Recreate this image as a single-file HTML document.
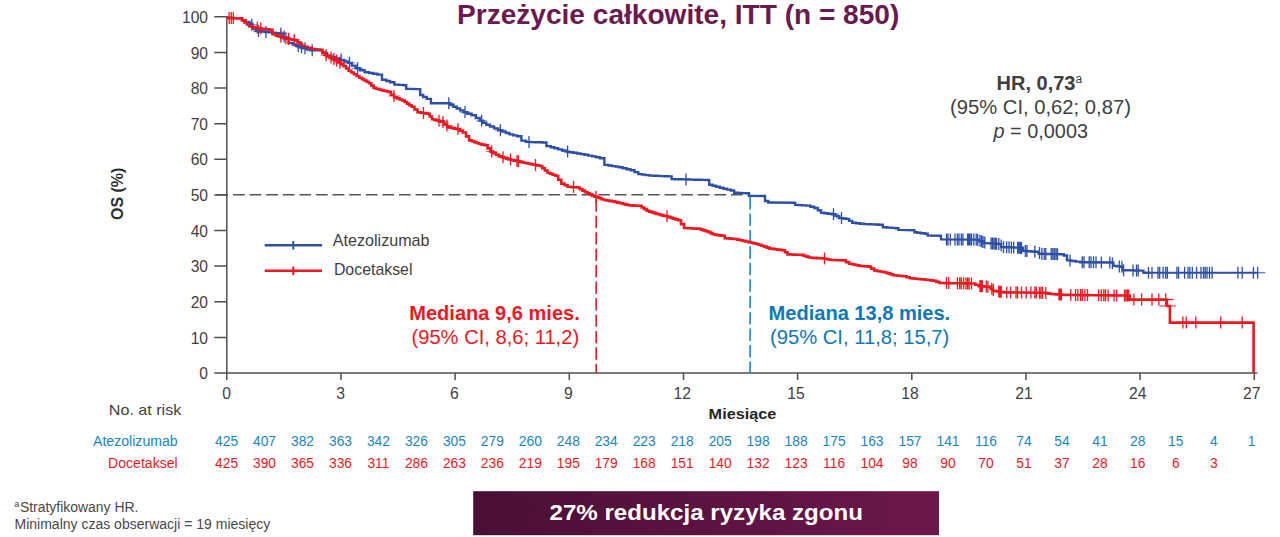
<!DOCTYPE html>
<html><head><meta charset="utf-8"><title>OS ITT</title>
<style>
html,body{margin:0;padding:0;background:#fff;}
body{width:1280px;height:537px;overflow:hidden;font-family:"Liberation Sans",sans-serif;}
svg{display:block;}
text{font-family:"Liberation Sans",sans-serif;}
</style></head><body>
<svg width="1280" height="537" viewBox="0 0 1280 537">
<defs><linearGradient id="g" x1="0" x2="1" y1="0" y2="0"><stop offset="0" stop-color="#4a0f35"/><stop offset="1" stop-color="#6d174b"/></linearGradient></defs>
<rect width="1280" height="537" fill="#fff"/>
<text x="457.0" y="24.0" font-size="27" fill="#6b1a4f" textLength="442.3" lengthAdjust="spacingAndGlyphs" font-weight="bold">Przeżycie całkowite, ITT (n = 850)</text>
<g stroke="#505050" stroke-width="1.5" fill="none"><path d="M226.8,16.0V373.0H1257.4"/><path d="M214.3,373.0H226.8M214.3,337.4H226.8M214.3,301.8H226.8M214.3,266.1H226.8M214.3,230.5H226.8M214.3,194.9H226.8M214.3,159.3H226.8M214.3,123.7H226.8M214.3,88.0H226.8M214.3,52.4H226.8M214.3,16.8H226.8M226.8,373.0V380.0M341.0,373.0V380.0M455.1,373.0V380.0M569.3,373.0V380.0M683.5,373.0V380.0M797.6,373.0V380.0M911.8,373.0V380.0M1026.0,373.0V380.0M1140.1,373.0V380.0M1254.3,373.0V380.0"/></g>
<g font-size="15.6" fill="#3f3f3f"><text x="208" y="379.1" text-anchor="end">0</text><text x="208" y="343.5" text-anchor="end">10</text><text x="208" y="307.9" text-anchor="end">20</text><text x="208" y="272.2" text-anchor="end">30</text><text x="208" y="236.6" text-anchor="end">40</text><text x="208" y="201.0" text-anchor="end">50</text><text x="208" y="165.4" text-anchor="end">60</text><text x="208" y="129.8" text-anchor="end">70</text><text x="208" y="94.1" text-anchor="end">80</text><text x="208" y="58.5" text-anchor="end">90</text><text x="208" y="22.9" text-anchor="end">100</text></g>
<g font-size="15.7" fill="#3f3f3f"><text x="226.6" y="398.8" text-anchor="middle">0</text><text x="340.5" y="398.8" text-anchor="middle">3</text><text x="454.4" y="398.8" text-anchor="middle">6</text><text x="568.3" y="398.8" text-anchor="middle">9</text><text x="682.2" y="398.8" text-anchor="middle">12</text><text x="796.1" y="398.8" text-anchor="middle">15</text><text x="910.0" y="398.8" text-anchor="middle">18</text><text x="1023.9" y="398.8" text-anchor="middle">21</text><text x="1137.8" y="398.8" text-anchor="middle">24</text><text x="1251.7" y="398.8" text-anchor="middle">27</text></g>
<text transform="translate(122.6,193.8) rotate(-90)" text-anchor="middle" font-size="16" font-weight="bold" fill="#2e2e2e" textLength="52.5" lengthAdjust="spacingAndGlyphs">OS (%)</text>
<text x="708.6" y="418.5" font-size="15.5" fill="#262626" textLength="67.8" lengthAdjust="spacingAndGlyphs" font-weight="bold">Miesiące</text>
<path d="M216.4,194.7H750" stroke="#555" stroke-width="1.6" stroke-dasharray="11.7 4.9" fill="none"/>
<path d="M596.2,199.3V373" stroke="#ef1821" stroke-width="1.6" stroke-dasharray="12.4 4.05" fill="none"/>
<path d="M750.1,197V373" stroke="#1985c3" stroke-width="1.6" stroke-dasharray="12.4 4.05" fill="none"/>
<path d="M226.8,17.8H229.1V18.0H233.7V18.2H238.3V18.4H240.6H242.4V20.2H245.9V22.0H249.5V23.8H251.3H252.4V28.5H253.6H255.8V31.0H258.0H260.2V31.5H264.8V32.0H267.0H268.8V32.4H272.2V32.8H275.8V33.1H279.2V33.5H281.0H283.5V38.2H288.5V43.0H291.0H292.7V44.4H296.1V45.8H299.6V47.2H301.3H303.1V48.2H306.8V49.3H310.5V50.3H312.3L320.0,50.3H322.4V53.0H327.1V55.8H329.5H331.6V57.2H335.8V58.5H339.9V59.9H342.0H343.9V61.4H347.9V62.9H349.8H351.8V65.6H355.7V68.3H357.6H360.0V70.2H364.6V72.2H367.0H369.1V73.0H373.2V73.8H377.4V74.6H379.5H382.0V79.8H384.5H386.4V81.0H390.1V82.2H392.0H394.4V84.6H396.7H399.0V84.9H403.5V85.2H405.8H406.2V88.8H406.6L419.1,89.1H420.2V95.0H421.4H423.2V97.0H426.7V98.9H428.5H430.9V103.2H433.2L448.8,103.3H450.4V105.0H453.4V106.7H455.0H456.7V108.5H460.1V110.4H463.5V112.2H465.2H467.4V113.8H471.6V115.3H473.8H475.8V118.0H479.7V120.8H481.6H483.2V122.8H486.3V124.7H487.9H490.0V126.5H494.1V128.4H498.3V130.2H500.4H502.2V131.6H505.9V133.0H509.5V134.4H511.3H513.2V135.4H517.1V136.3H519.0H521.4V140.6H523.8H526.1V141.9H528.5H530.4V142.1H534.3V142.2H538.2V142.3H542.1V142.5H544.0H546.4V146.1H548.8H550.7V147.2H554.4V148.3H558.2V149.4H562.0V150.5H565.7V151.6H567.6H569.5V152.2H573.2V152.8H577.0V153.5H580.7V154.1H584.4V154.7H586.3H588.3V155.6H592.2V156.4H596.1V157.3H600.0V158.2H602.0H604.4V164.9H606.7H608.5V165.5H612.0V166.1H615.5V166.6H619.0V167.2H620.7H622.7V168.2H626.6V169.2H630.5V170.2H632.5H634.5V172.1H638.3V174.1H640.3H642.1V174.6H645.8V175.1H649.5V175.6H651.3H653.2V175.8H656.9V175.9H660.6V176.1H664.4V176.2H668.1V176.4H670.0H671.6V179.1H673.2H675.1V179.2H678.9V179.3H682.8V179.4H686.6V179.5H690.4V179.6H694.2V179.7H698.0V179.8H701.9V179.9H705.7V180.0H707.6H709.2V184.7H710.7H712.5V185.7H716.2V186.8H719.8V187.8H721.6H723.4V188.7H727.1V189.6H730.8V190.5H732.6H734.2V192.8H735.7H737.8V193.0H742.0V193.1H746.1V193.3H748.2H749.0V195.7H749.8L763.9,196.0H765.0V201.0H766.2H768.2V202.5H770.1L794.4,202.8H795.2V204.9H796.0H798.1V205.1H802.2V205.4H806.4V205.6H808.5H810.5V206.8H814.3V208.0H816.3H817.8V210.3H821.0V212.7H822.5H824.3V213.2H828.0V213.7H831.7V214.2H833.5H835.5V216.1H839.3V218.1H841.3H842.9V218.5H846.0V218.9H847.6H849.1V220.9H852.2V222.8H853.8H855.9V223.2H860.0V223.7H864.2V224.1H866.3H868.1V224.2H871.6V224.4H875.1V224.5H878.6V224.7H880.4H882.8V227.2H885.1H887.2V227.6H891.4V227.9H895.5V228.3H897.6H898.4V229.9H899.2L913.6,230.2H914.4V232.2H915.2H917.2V232.7H921.0V233.3H925.0V233.8H926.9H927.7V235.5H928.5L940.2,235.8H941.0V239.4H941.8L977.0,239.6H979.3V241.3H984.0V243.1H986.3H988.4V243.4H992.5V243.6H996.7V243.9H998.8H1001.1V247.1H1003.5H1005.6V247.3H1010.0V247.4H1014.2V247.6H1018.6V247.8H1020.7H1023.1V251.0H1025.4H1027.2V251.2H1030.9V251.5H1034.6V251.7H1036.4H1038.7V253.8H1041.0H1042.8V253.9H1046.5V254.0H1050.2V254.1H1053.8V254.1H1057.5V254.2H1061.2V254.3H1063.0H1063.8V255.5H1064.5H1067.0V260.4H1069.5H1071.6V261.0H1075.9V261.6H1080.2V262.2H1082.3L1111.6,262.5H1113.3V265.9H1115.0H1116.7V266.4H1120.2V266.8H1121.9H1122.8V270.2H1123.6H1125.8V270.3H1130.0V270.4H1134.3V270.5H1138.6V270.6H1140.8H1143.4V272.8H1146.0L1150.0,272.8" stroke="#2f4fa7" stroke-width="2.4" fill="none" stroke-linejoin="miter"/>
<path d="M1149,272.8H1258" stroke="#2f4fa7" stroke-width="1.9" fill="none"/><path d="M1258,272.8H1265.4" stroke="#2f4fa7" stroke-width="1.0" fill="none"/>
<path d="M251.8,18.8V30.8M258.5,25.1V37.1M266.0,25.9V37.9M280.9,27.5V39.5M284.2,30.5V42.5M298.2,39.9V51.9M301.5,41.3V53.3M305.0,42.2V54.2M312.2,44.3V56.3M341.2,53.6V65.6M349.5,56.8V68.8M357.6,62.3V74.3M448.8,97.3V109.3M465.0,106.1V118.1M481.6,114.8V126.8M500.4,124.2V136.2M529.0,135.9V147.9M567.6,145.6V157.6M686.0,173.4V185.4M833.5,208.2V220.2M841.5,212.1V224.1M946.5,233.4V245.4M948.0,233.4V245.4M950.4,233.4V245.4M955.0,233.5V245.5M957.4,233.5V245.5M959.0,233.5V245.5M961.3,233.5V245.5M962.9,233.5V245.5M967.6,233.5V245.5M968.8,233.6V245.6M970.0,233.6V245.6M971.5,233.6V245.6M973.8,233.6V245.6M976.2,233.6V245.6M977.7,233.9V245.9M980.0,234.7V246.7M981.6,235.3V247.3M983.0,235.9V247.9M984.8,236.5V248.5M991.0,237.4V249.4M992.5,237.5V249.5M994.0,237.6V249.6M995.5,237.7V249.7M996.5,237.8V249.8M998.8,237.9V249.9M1001.2,239.5V251.5M1003.5,241.1V253.1M1006.7,241.2V253.2M1009.0,241.3V253.3M1011.4,241.4V253.4M1013.7,241.5V253.5M1017.6,241.7V253.7M1019.0,241.7V253.7M1020.3,241.8V253.8M1021.5,242.3V254.3M1025.4,245.0V257.0M1027.0,245.1V257.1M1034.8,245.6V257.6M1039.5,247.1V259.1M1041.8,247.8V259.8M1044.2,247.9V259.9M1045.8,247.9V259.9M1051.2,248.0V260.0M1052.8,248.1V260.1M1054.4,248.1V260.1M1056.0,248.1V260.1M1057.5,248.2V260.2M1070.0,254.5V266.5M1082.3,256.2V268.2M1084.0,256.2V268.2M1089.2,256.3V268.3M1091.0,256.3V268.3M1093.5,256.3V268.3M1096.0,256.3V268.3M1101.3,256.4V268.4M1109.8,256.5V268.5M1112.4,257.3V269.3M1119.3,260.5V272.5M1121.9,260.8V272.8M1123.6,264.2V276.2M1133.0,264.4V276.4M1136.5,264.5V276.5M1138.2,264.5V276.5M1148.5,266.8V278.8M1152.0,266.8V278.8M1158.0,266.8V278.8M1159.7,266.8V278.8M1163.1,266.8V278.8M1165.7,266.8V278.8M1167.4,266.8V278.8M1176.9,266.8V278.8M1178.6,266.8V278.8M1184.6,266.8V278.8M1188.0,266.8V278.8M1189.8,266.8V278.8M1192.3,266.8V278.8M1196.6,266.8V278.8M1201.0,266.8V278.8M1203.5,266.8V278.8M1205.2,266.8V278.8M1207.0,266.8V278.8M1209.5,266.8V278.8M1212.1,266.8V278.8M1237.9,266.8V278.8M1242.2,266.8V278.8M1253.4,266.8V278.8M1257.7,266.8V278.8" stroke="#2f4fa7" stroke-width="1.3" fill="none"/>
<path d="M226.8,17.8H228.2V17.9H230.9V18.0H233.7V18.2H236.5V18.3H239.2V18.4H240.6H241.9V20.4H244.4V22.4H246.9V24.4H249.4V26.4H250.7H252.1V27.0H254.9V27.5H257.7V28.1H260.5V28.7H261.9H263.4V29.1H266.4V29.4H269.3V29.8H270.8H272.5V34.3H274.2H275.7V35.4H278.6V36.5H281.6V37.6H283.1H284.4V38.2H287.1V38.7H289.8V39.3H292.5V39.8H295.2V40.4H296.5H297.6V42.3H299.9V44.1H302.1V46.0H303.2H304.7V46.9H307.7V47.9H310.7V48.8H312.2H313.7V49.2H316.6V49.5H319.6V49.9H321.1H322.2V52.4H324.5V54.9H325.6H327.0V56.3H329.8V57.7H332.5V59.1H335.3V60.5H336.7H338.1V62.4H340.8V64.2H343.5V66.1H344.9H346.1V68.4H348.6V70.7H349.8H351.2V72.5H353.9V74.2H356.6V76.0H359.3V77.7H360.7H361.9V79.1H364.2V80.5H366.6V81.8H368.9V83.2H370.1H371.3V85.6H373.6V87.9H374.8H376.1V88.7H378.7V89.5H380.0H381.2V90.1H383.5V90.7H385.9V91.3H388.2V91.9H389.4H390.9V94.7H394.1V97.4H395.6H396.9V98.4H399.6V99.5H402.2V100.5H403.5H404.7V102.0H407.0V103.6H409.3V105.2H411.6V106.7H412.8H414.4V109.5H417.5V112.2H419.1H420.3V112.6H422.6V113.0H425.0V113.4H427.3V113.8H428.5H429.7V116.5H432.0V119.3H433.2H434.4V119.9H436.7V120.4H439.0V121.0H441.3V121.6H442.5H444.1V124.3H447.2V127.1H448.8H450.0V127.6H452.3V128.1H454.7V128.6H457.0V129.1H458.2H459.8V130.8H462.8V132.5H464.4H466.0V136.4H469.1V140.4H470.7H471.9V141.2H474.2V142.1H476.5V143.0H478.8V143.8H480.0H481.6V144.6H484.7V145.3H486.3H487.6V148.4H490.4V151.6H491.7H493.1V153.2H496.0V154.7H498.9V156.3H500.3H501.5V157.1H503.8V157.9H506.2V158.6H508.5V159.4H509.7H511.1V160.0H513.9V160.6H516.8V161.3H519.6V161.9H522.4V162.5H523.8H525.0V163.0H527.5V163.5H529.9V164.0H532.4V164.5H534.9V165.0H537.3V165.5H539.8V166.0H541.0H542.3V168.2H544.9V170.5H547.5V172.7H548.8H550.1V173.7H552.7V174.8H555.3V175.8H556.6H558.2V179.7H561.3V183.6H562.9H564.5V185.2H567.5V186.8H569.1H570.3V187.0H572.6V187.2H575.0V187.3H577.3V187.5H578.5H579.8V189.1H582.4V190.6H585.0V192.2H586.3H587.5V193.3H589.8V194.4H592.2V195.5H594.5V196.6H595.7H596.9V197.4H599.2V198.3H601.6V199.2H603.9V200.0H605.1H606.5V200.5H609.2V200.9H611.9V201.4H614.6V201.9H616.0H617.3V202.6H620.0V203.3H622.7V203.9H625.4V204.6H628.1V205.3H629.4H630.8V205.4H633.5V205.6H636.2V205.7H638.9V205.8H640.3H641.6V207.5H644.2V209.1H646.8V210.8H648.1H649.3V211.6H651.6V212.4H654.0V213.1H656.3V213.9H657.5H658.7V214.5H661.0V215.1H663.4V215.7H665.7V216.3H666.9H668.1V217.1H670.6V217.9H673.1V218.6H675.6V219.4H678.1V220.2H679.4H681.0V224.1H684.1V228.0H685.7H687.1V228.2H689.9V228.3H692.7V228.5H695.5V228.6H698.3V228.8H699.7H700.9V229.6H703.2V230.4H705.6V231.1H707.9V231.9H709.1H710.3V233.1H712.6V234.3H713.8H715.0V234.7H717.3V235.1H719.7V235.4H722.0V235.8H723.2H724.8V238.2H726.3H727.5V238.4H729.8V238.6H732.2V238.8H734.5V239.0H735.7H737.1V239.6H739.9V240.2H742.8V240.9H745.6V241.5H748.4V242.1H749.8H751.1V242.8H753.6V243.4H756.2V244.0H758.7V244.7H760.0H761.4V245.7H764.1V246.6H766.8V247.6H769.5V248.6H770.9H772.2V248.9H774.7V249.2H777.2V249.6H779.7V249.9H782.2V250.2H783.5H784.9V252.3H787.5V254.4H788.9H790.2V254.5H792.9V254.6H795.5V254.7H798.2V254.8H800.9V254.9H802.2H803.5V255.8H806.1V256.6H808.7V257.5H810.0H811.4V257.7H814.2V257.9H817.0V258.1H819.9V258.3H822.7V258.5H824.1H825.4V259.0H828.0V259.5H830.6V260.0H831.9L844.4,260.4H846.0V262.1H849.1V263.8H850.7H851.9V264.3H854.2V264.8H856.6V265.3H858.9V265.8H860.1H861.3V266.0H863.6V266.2H866.0V266.4H868.3V266.6H869.5H871.0V268.6H874.2V270.5H875.7H877.0V271.0H879.7V271.5H882.3V272.0H885.0V272.5H886.3H887.6V273.4H890.2V274.3H892.8V275.2H894.1H895.5V275.5H898.2V275.8H900.9V276.0H903.6V276.3H905.0H906.6V277.3H909.7V278.3H911.3H912.5V278.5H915.0V278.7H917.5V279.0H920.0V279.2H922.5V279.4H923.8H925.2V279.7H927.9V280.0H930.6V280.4H933.3V280.7H934.7H936.3V281.9H939.4V283.0H941.0H942.3V283.0H944.8V283.1H947.3V283.1H949.8V283.2H952.4V283.2H954.9V283.2H957.4V283.3H959.9V283.3H962.4V283.3H965.0V283.4H967.5V283.4H970.0V283.5H972.5V283.5H973.8H975.3V284.8H978.5V286.1H980.0H981.2V286.3H983.6V286.5H985.9V286.7H988.3V286.9H989.5H990.7V288.9H993.0V290.8H994.2H995.6V291.2H998.2V291.6H1001.0V292.0H1003.6V292.4H1005.0L1044.2,292.7H1045.5V293.1H1048.1V293.6H1050.7V294.0H1052.0H1053.4V294.2H1056.2V294.4H1059.0V294.5H1061.8V294.7H1064.6V294.9H1066.0H1067.3V294.9H1070.0V295.0H1072.6V295.0H1075.2V295.0H1077.8V295.0H1080.5V295.1H1083.1V295.1H1085.8V295.1H1088.4V295.2H1091.0V295.2H1093.7V295.2H1096.3V295.2H1098.9V295.3H1101.5V295.3H1104.2V295.3H1106.8V295.4H1109.5V295.4H1112.1V295.4H1114.7V295.5H1117.4V295.5H1120.0V295.5H1122.6V295.5H1125.2V295.6H1127.9V295.6H1129.2H1129.8V299.6H1130.4L1166.8,299.6H1166.9V306.0H1167.0L1169.9,306.0L1169.9,322.6L1253.6,322.6L1253.6,373.0" stroke="#ef1821" stroke-width="2.6" fill="none" stroke-linejoin="miter"/>
<path d="M229.2,11.9V23.9M231.3,12.0V24.0M233.3,12.1V24.1M257.4,21.8V33.8M260.8,22.5V34.5M280.9,30.8V42.8M285.9,32.2V44.2M288.7,32.8V44.8M294.3,33.9V45.9M326.1,49.2V61.2M331.0,51.6V63.6M333.8,53.0V65.0M336.7,54.5V66.5M340.0,56.8V68.8M394.0,90.0V102.0M423.5,106.9V118.9M439.0,114.7V126.7M443.0,116.0V128.0M447.0,119.5V131.5M458.0,123.1V135.1M491.7,145.6V157.6M503.0,151.2V163.2M510.5,153.6V165.6M517.0,155.0V167.0M518.5,155.3V167.3M535.5,158.9V170.9M573.5,181.1V193.1M596.0,190.7V202.7M667.0,210.3V222.3M824.5,252.6V264.6M946.5,277.1V289.1M948.8,277.1V289.1M957.4,277.2V289.2M959.7,277.3V289.3M961.3,277.3V289.3M963.7,277.3V289.3M966.0,277.4V289.4M967.6,277.4V289.4M969.1,277.4V289.4M971.5,277.5V289.5M980.0,280.1V292.1M981.2,280.2V292.2M982.4,280.3V292.3M986.3,280.6V292.6M987.9,280.8V292.8M991.8,282.8V294.8M993.4,284.1V296.1M998.8,285.5V297.5M1000.0,285.7V297.7M1001.2,285.8V297.8M1006.7,286.4V298.4M1010.6,286.4V298.4M1016.0,286.5V298.5M1017.6,286.5V298.5M1021.5,286.5V298.5M1026.2,286.6V298.6M1030.9,286.6V298.6M1034.8,286.6V298.6M1036.4,286.6V298.6M1039.5,286.7V298.7M1041.0,286.7V298.7M1042.6,286.7V298.7M1045.8,287.0V299.0M1059.0,288.4V300.4M1060.2,288.5V300.5M1061.4,288.6V300.6M1070.8,289.0V301.0M1075.5,289.0V301.0M1077.8,289.0V301.0M1080.6,289.1V301.1M1082.3,289.1V301.1M1084.9,289.1V301.1M1087.5,289.1V301.1M1098.7,289.3V301.3M1101.3,289.3V301.3M1103.8,289.3V301.3M1105.5,289.3V301.3M1108.1,289.4V301.4M1114.1,289.4V301.4M1116.7,289.5V301.5M1124.5,289.5V301.5M1126.0,289.6V301.6M1127.4,289.6V301.6M1128.8,289.6V301.6M1133.9,293.6V305.6M1141.6,293.6V305.6M1152.0,293.6V305.6M1158.8,293.6V305.6M1165.7,293.6V305.6M1182.9,316.6V328.6M1186.3,316.6V328.6M1195.8,316.6V328.6M1220.7,316.6V328.6M1242.2,316.6V328.6" stroke="#ef1821" stroke-width="1.3" fill="none"/>
<path d="M246.3,24.8H257.3M253.0,31.1H264.0M260.5,31.9H271.5M275.4,33.5H286.4M278.7,36.5H289.7M292.7,45.9H303.7M296.0,47.3H307.0M299.5,48.2H310.5M306.7,50.3H317.7M335.7,59.6H346.7M344.0,62.8H355.0M352.1,68.3H363.1M443.3,103.3H454.3M459.5,112.1H470.5M476.1,120.8H487.1M494.9,130.2H505.9M523.5,141.9H534.5M562.1,151.6H573.1M680.5,179.4H691.5M828.0,214.2H839.0M836.0,218.1H847.0" stroke="#2f4fa7" stroke-width="0.9" opacity="0.85" fill="none"/>
<path d="M251.9,27.8H262.9M255.3,28.5H266.3M275.4,36.8H286.4M280.4,38.2H291.4M283.2,38.8H294.2M288.8,39.9H299.8M320.6,55.2H331.6M325.5,57.6H336.5M328.3,59.0H339.3M331.2,60.5H342.2M334.5,62.8H345.5M388.5,96.0H399.5M418.0,112.9H429.0M433.5,120.7H444.5M437.5,122.0H448.5M441.5,125.5H452.5M452.5,129.1H463.5M486.2,151.6H497.2M497.5,157.2H508.5M505.0,159.6H516.0M511.5,161.0H522.5M513.0,161.3H524.0M530.0,164.9H541.0M568.0,187.1H579.0M590.5,196.7H601.5M661.5,216.3H672.5M819.0,258.6H830.0" stroke="#ef1821" stroke-width="0.9" opacity="0.85" fill="none"/>
<path d="M1165,299.6H1173.5M1159.4,306H1175.8" stroke="#ef1821" stroke-width="1.1" fill="none"/>
<path d="M264.7,245.3H322" stroke="#2f4fa7" stroke-width="2.4"/><path d="M293.3,241V249.5" stroke="#2f4fa7" stroke-width="2"/>
<path d="M264.7,270.8H322" stroke="#ef1821" stroke-width="2.4"/><path d="M293.3,266.5V275" stroke="#ef1821" stroke-width="2"/>
<text x="332.8" y="246.0" font-size="16.2" fill="#3f3f3f" textLength="96.7" lengthAdjust="spacingAndGlyphs">Atezolizumab</text>
<text x="333.9" y="274.6" font-size="16.2" fill="#3f3f3f" textLength="78.6" lengthAdjust="spacingAndGlyphs">Docetaksel</text>
<text x="409.2" y="320.0" font-size="19.5" fill="#ef1821" textLength="170.6" lengthAdjust="spacingAndGlyphs" font-weight="bold">Mediana 9,6 mies.</text>
<text x="411.5" y="343.8" font-size="19.5" fill="#ef1821" textLength="167.6" lengthAdjust="spacingAndGlyphs">(95% CI, 8,6; 11,2)</text>
<text x="768.6" y="320.0" font-size="19.5" fill="#0f78b9" textLength="181.6" lengthAdjust="spacingAndGlyphs" font-weight="bold">Mediana 13,8 mies.</text>
<text x="770.0" y="343.8" font-size="19.5" fill="#0f78b9" textLength="179.3" lengthAdjust="spacingAndGlyphs">(95% CI, 11,8; 15,7)</text>
<text x="996.5" y="89.7" font-size="19.5" fill="#3f3f3f" textLength="79.0" lengthAdjust="spacingAndGlyphs" font-weight="bold">HR, 0,73</text>
<text x="1075.5" y="83" font-size="12" fill="#3f3f3f">a</text>
<text x="950.0" y="113.5" font-size="19.5" fill="#3f3f3f" textLength="180.9" lengthAdjust="spacingAndGlyphs">(95% CI, 0,62; 0,87)</text>
<text x="993.5" y="138.0" font-size="19.5" fill="#3f3f3f" textLength="94.5" lengthAdjust="spacingAndGlyphs"><tspan font-style="italic">p</tspan> = 0,0003</text>
<text x="108.8" y="414.5" font-size="15" fill="#3f3f3f" textLength="72.5" lengthAdjust="spacingAndGlyphs">No. at risk</text>
<text x="93.0" y="445.5" font-size="14" fill="#1985c3" textLength="84.7" lengthAdjust="spacingAndGlyphs">Atezolizumab</text>
<text x="108.0" y="467.5" font-size="14" fill="#ef1821" textLength="69.7" lengthAdjust="spacingAndGlyphs">Docetaksel</text>
<g font-size="13.8" text-anchor="middle" fill="#1985c3"><text x="226.6" y="445.5">425</text><text x="264.5" y="445.5">407</text><text x="302.5" y="445.5">382</text><text x="340.5" y="445.5">363</text><text x="378.4" y="445.5">342</text><text x="416.4" y="445.5">326</text><text x="454.4" y="445.5">305</text><text x="492.3" y="445.5">279</text><text x="530.3" y="445.5">260</text><text x="568.3" y="445.5">248</text><text x="606.2" y="445.5">234</text><text x="644.2" y="445.5">223</text><text x="682.2" y="445.5">218</text><text x="720.2" y="445.5">205</text><text x="758.1" y="445.5">198</text><text x="796.1" y="445.5">188</text><text x="834.1" y="445.5">175</text><text x="872.0" y="445.5">163</text><text x="910.0" y="445.5">157</text><text x="948.0" y="445.5">141</text><text x="986.0" y="445.5">116</text><text x="1023.9" y="445.5">74</text><text x="1061.9" y="445.5">54</text><text x="1099.9" y="445.5">41</text><text x="1137.8" y="445.5">28</text><text x="1175.8" y="445.5">15</text><text x="1213.8" y="445.5">4</text><text x="1251.7" y="445.5">1</text></g>
<g font-size="13.8" text-anchor="middle" fill="#ef1821"><text x="226.6" y="467.5">425</text><text x="264.5" y="467.5">390</text><text x="302.5" y="467.5">365</text><text x="340.5" y="467.5">336</text><text x="378.4" y="467.5">311</text><text x="416.4" y="467.5">286</text><text x="454.4" y="467.5">263</text><text x="492.3" y="467.5">236</text><text x="530.3" y="467.5">219</text><text x="568.3" y="467.5">195</text><text x="606.2" y="467.5">179</text><text x="644.2" y="467.5">168</text><text x="682.2" y="467.5">151</text><text x="720.2" y="467.5">140</text><text x="758.1" y="467.5">132</text><text x="796.1" y="467.5">123</text><text x="834.1" y="467.5">116</text><text x="872.0" y="467.5">104</text><text x="910.0" y="467.5">98</text><text x="948.0" y="467.5">90</text><text x="986.0" y="467.5">70</text><text x="1023.9" y="467.5">51</text><text x="1061.9" y="467.5">37</text><text x="1099.9" y="467.5">28</text><text x="1137.8" y="467.5">16</text><text x="1175.8" y="467.5">6</text><text x="1213.8" y="467.5">3</text></g>
<text x="14.5" y="507" font-size="9" fill="#484848">a</text>
<text x="19.9" y="512.3" font-size="14" fill="#484848" textLength="118.6" lengthAdjust="spacingAndGlyphs">Stratyfikowany HR.</text>
<text x="14.5" y="528.7" font-size="14" fill="#484848" textLength="255.7" lengthAdjust="spacingAndGlyphs">Minimalny czas obserwacji = 19 miesięcy</text>
<rect x="473.2" y="491.2" width="465.8" height="44" fill="url(#g)"/>
<text x="549.5" y="520.1" font-size="22.5" fill="#fff" textLength="313.5" lengthAdjust="spacingAndGlyphs" font-weight="bold">27% redukcja ryzyka zgonu</text>
</svg></body></html>
